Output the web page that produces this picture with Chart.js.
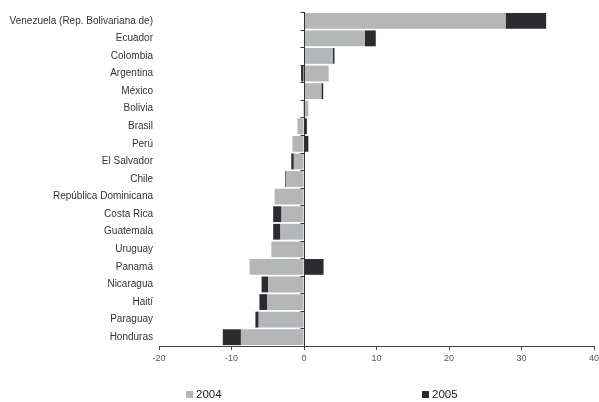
<!DOCTYPE html>
<html>
<head>
<meta charset="utf-8">
<script src="https://cdn.jsdelivr.net/npm/chart.js@4"></script>
<style>
  html, body { margin: 0; padding: 0; background: #fff; }
  #wrap { position: relative; width: 599px; height: 402px; }
  .leg { position: absolute; top: 388px; font: 11.5px "Liberation Sans", Arial, sans-serif; color: #222; display: flex; align-items: center; }
  .leg i { display: inline-block; width: 7px; height: 7px; margin-right: 3px; }
</style>
</head>
<body>
<div id="wrap">
  <canvas id="chart" width="599" height="402"></canvas>
  <div class="leg" style="left:186px"><i style="background:#b5b6b8"></i>2004</div>
  <div class="leg" style="left:422px"><i style="background:#2b2b30"></i>2005</div>
</div>
<script>
// Data
const countries = [
  "Venezuela (Rep. Bolivariana de)", "Ecuador", "Colombia", "Argentina", "México",
  "Bolivia", "Brasil", "Perú", "El Salvador", "Chile", "República Dominicana",
  "Costa Rica", "Guatemala", "Uruguay", "Panamá", "Nicaragua", "Haití",
  "Paraguay", "Honduras",
];
const values2004 = [27.8, 8.4, 4.0, 3.4, 2.4, 0.6, -0.9, -1.6, -1.4, -2.5, -4.05,
  -3.1, -3.25, -4.5, -7.5, -4.95, -5.05, -6.25, -8.7];
const values2005 = [5.6, 1.5, 0.2, -0.4, 0.25, -0.1, 0.4, 0.6, -0.35, -0.1, 0.1,
  -1.15, -1.0, 0.1, 2.7, -0.9, -1.1, -0.45, -2.5];
const xTicks = [-20, -10, 0, 10, 20, 30, 40];

const FONT = "'Liberation Sans', Arial, sans-serif";

// zero line with small category ticks
const zeroAxis = {
  id: "zeroAxis",
  afterDatasetsDraw(chart) {
    const { ctx, chartArea, scales } = chart;
    const x0 = Math.round(scales.x.getPixelForValue(0)) + 0.5;
    const y = scales.y;
    ctx.save();
    ctx.strokeStyle = "#333";
    ctx.lineWidth = 1;
    ctx.beginPath();
    ctx.moveTo(x0, chartArea.top);
    ctx.lineTo(x0, chartArea.bottom);
    const step = (chartArea.bottom - chartArea.top) / countries.length;
    for (let i = 0; i < countries.length; i++) {
      const yy = Math.round(y.getPixelForValue(i) - step / 2) + 0.5;
      ctx.moveTo(x0 - 4, yy);
      ctx.lineTo(x0, yy);
    }
    ctx.stroke();
    ctx.restore();
  },
};

new Chart(document.getElementById("chart"), {
  type: "bar",
  data: {
    labels: countries,
    datasets: [
      { label: "2004", data: values2004, backgroundColor: "#b5b6b8" },
      { label: "2005", data: values2005, backgroundColor: "#2b2b30" },
    ],
  },
  options: {
    indexAxis: "y",
    responsive: false,
    animation: false,
    devicePixelRatio: 1,
    categoryPercentage: 0.9,
    barPercentage: 1.0,
    layout: { padding: { top: 10, right: 5, left: 0, bottom: 0 } },
    plugins: {
      legend: { display: false },
      tooltip: { enabled: false },
    },
    scales: {
      x: {
        stacked: true,
        min: -20,
        max: 40,
        afterBuildTicks: (s) => { s.ticks = xTicks.map((v) => ({ value: v })); },
        afterFit: (s) => { s.height = 56; s.paddingRight = 0; s.paddingLeft = 0; },
        grid: { drawOnChartArea: false, drawTicks: true, tickLength: 4, color: "#444" },
        border: { display: true, color: "#444" },
        ticks: { color: "#555", font: { family: FONT, size: 9 }, padding: 3 },
      },
      y: {
        stacked: true,
        afterFit: (s) => { s.width = 159; },
        grid: { display: false, drawTicks: false },
        border: { display: false },
        ticks: { color: "#333", font: { family: FONT, size: 10 }, padding: 6, autoSkip: false },
      },
    },
  },
  plugins: [zeroAxis],
});
</script>
</body>
</html>
